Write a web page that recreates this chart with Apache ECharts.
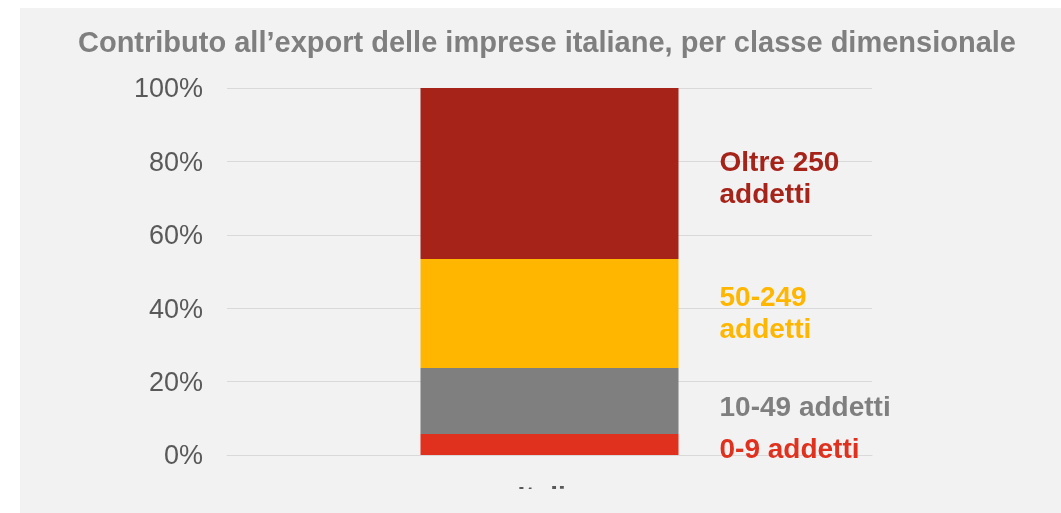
<!DOCTYPE html>
<html>
<head>
<meta charset="utf-8">
<script src="https://cdn.jsdelivr.net/npm/echarts@6/dist/echarts.min.js"></script>
<style>
  html, body { margin: 0; padding: 0; background: #ffffff; }
  #chart { position: absolute; left: 20px; top: 8px; width: 1041px; height: 505px; background: #f2f2f2; }
</style>
</head>
<body>
<div id="chart"></div>
<script>
  // categorie e quote (%)
  const categories = ['Italia'];
  const classLabels = ['0-9 addetti', '10-49 addetti', '50-249\naddetti', 'Oltre 250\naddetti'];
  const classColors = ['#e0301e', '#7f7f7f', '#ffb600', '#a6231a'];
  const micro = [5.7];
  const small = [18.0];
  const medium = [29.7];
  const large = [46.6];
  const yTicks = { min: 0, max: 100, interval: 20 };

  const font = "'Liberation Sans', Arial, sans-serif";
  const chart = echarts.init(document.getElementById('chart'));

  function buildSeries(name, data, idx, offsetY) {
    return {
      name: name,
      type: 'bar',
      stack: 'total',
      barWidth: 258,
      data: data,
      itemStyle: { color: classColors[idx] },
      label: {
        show: true,
        position: 'right',
        distance: 41,
        offset: [0, offsetY],
        formatter: () => name,
        color: classColors[idx],
        fontFamily: font,
        fontWeight: 'bold',
        fontSize: 28,
        lineHeight: 32,
        align: 'left',
      },
    };
  }

  chart.setOption({
    animation: false,
    backgroundColor: '#f2f2f2',
    title: {
      text: 'Contributo all’export delle imprese italiane, per classe dimensionale',
      left: 53,
      top: 16,
      textStyle: { color: '#7f7f7f', fontFamily: font, fontWeight: 'bold', fontSize: 29 },
    },
    grid: { left: 207, right: 189, top: 80, bottom: 58 },
    xAxis: {
      type: 'category',
      data: categories,
      axisLine: { lineStyle: { color: '#d9d9d9' } },
      axisTick: { show: false },
      axisLabel: { color: '#595959', fontFamily: font, fontWeight: 'bold', fontSize: 28, margin: 29 },
    },
    yAxis: {
      type: 'value',
      min: yTicks.min,
      max: yTicks.max,
      interval: yTicks.interval,
      axisLine: { show: false },
      axisTick: { show: false },
      splitLine: { lineStyle: { color: '#d9d9d9', width: 1 } },
      axisLabel: {
        formatter: (v) => '{p|' + v + '%}',
        margin: 24,
        rich: {
          p: {
            color: '#595959',
            fontFamily: font,
            fontSize: 27,
            padding: [4, 0, 0, 0],
          },
        },
      },
    },
    series: [
      buildSeries(classLabels[0], micro, 0, 6),
      buildSeries(classLabels[1], small, 1, 7),
      buildSeries(classLabels[2], medium, 2, 1),
      buildSeries(classLabels[3], large, 3, 6),
    ],
    graphic: [
      {
        type: 'rect',
        left: 0,
        top: 481,
        shape: { width: 1041, height: 24 },
        style: { fill: '#f2f2f2' },
        z: 100,
      },
    ],
  });
</script>
</body>
</html>
